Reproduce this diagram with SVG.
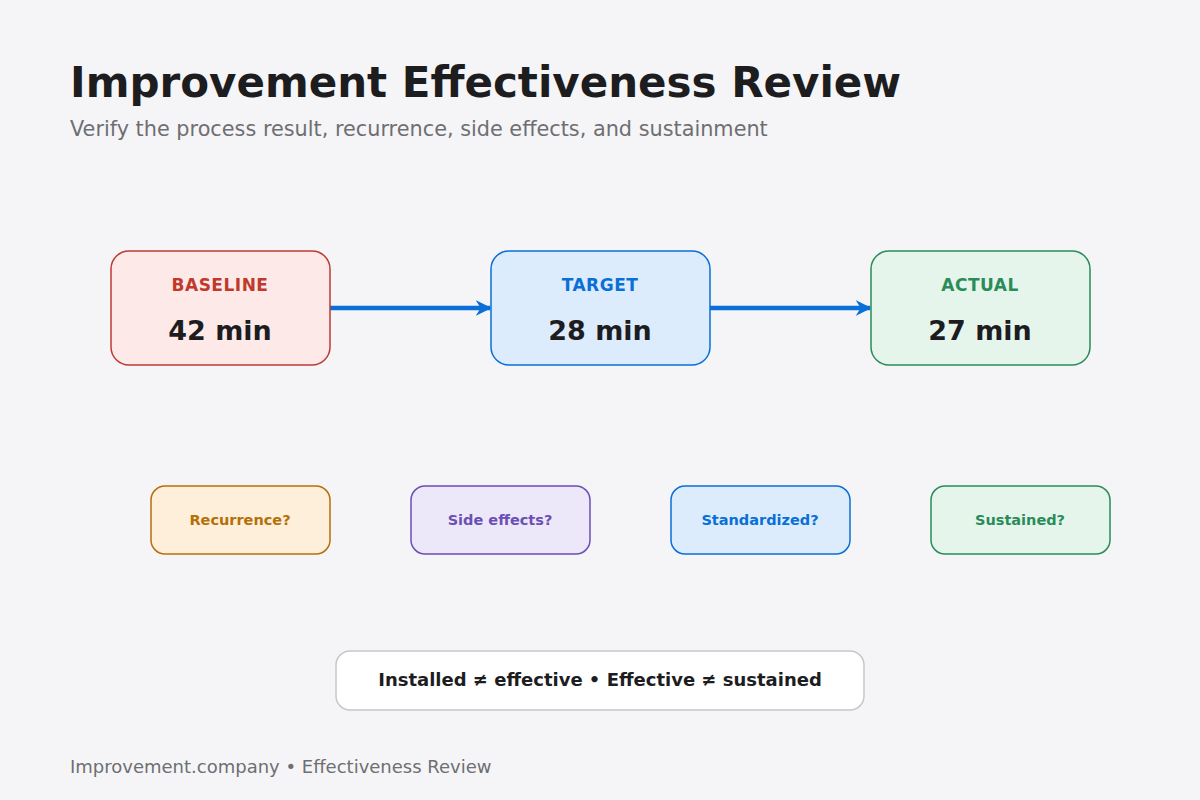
<svg xmlns="http://www.w3.org/2000/svg" width="1200" height="800" viewBox="0 0 1200 800">
<style>
text{font-family:"DejaVu Sans",sans-serif}
.lab{font-size:17px;font-weight:bold;text-anchor:middle;letter-spacing:0.5px}
.val{font-size:27px;font-weight:bold;text-anchor:middle;fill:#1d1d1f}
.q{font-size:14.5px;font-weight:bold;text-anchor:middle}
</style>
<defs>
<marker id="ah" viewBox="0 0 10 10" refX="9" refY="5" markerWidth="3.5" markerHeight="3.5" orient="auto"><path d="M0,0 L10,5 L0,10 L3,5 Z" fill="#0a6fd6"/></marker>
</defs>
<rect width="1200" height="800" fill="#f5f5f7"/>
<text x="70" y="97" font-size="42" font-weight="bold" fill="#1d1d1f">Improvement Effectiveness Review</text>
<text x="70" y="136" font-size="20.8" fill="#6e6e73">Verify the process result, recurrence, side effects, and sustainment</text>
<g id="connectors" stroke="#0a6fd6" stroke-width="4.5" marker-end="url(#ah)">
<line x1="330" y1="308" x2="490" y2="308"/>
<line x1="710" y1="308" x2="870" y2="308"/>
</g>
<g id="baseline"><rect x="111" y="251" width="219" height="114" rx="18" fill="#fde9e8" stroke="#bd3a35" stroke-width="1.5"/>
<text class="lab" x="220" y="291" fill="#c0392b">BASELINE</text><text class="val" x="220" y="340">42 min</text></g>
<g id="target"><rect x="491" y="251" width="219" height="114" rx="18" fill="#dcecfc" stroke="#0a6fd6" stroke-width="1.5"/>
<text class="lab" x="600" y="291" fill="#0a6fd6">TARGET</text><text class="val" x="600" y="340">28 min</text></g>
<g id="actual"><rect x="871" y="251" width="219" height="114" rx="18" fill="#e6f5ec" stroke="#2a8c58" stroke-width="1.5"/>
<text class="lab" x="980" y="291" fill="#2a8c58">ACTUAL</text><text class="val" x="980" y="340">27 min</text></g>
<g id="recurrence"><rect x="151" y="486" width="179" height="68" rx="14" fill="#fdefd9" stroke="#b56f0a" stroke-width="1.5"/><text class="q" x="240" y="525" fill="#b56f0a">Recurrence?</text></g>
<g id="side"><rect x="411" y="486" width="179" height="68" rx="14" fill="#ede7fa" stroke="#6b4fb5" stroke-width="1.5"/><text class="q" x="500" y="525" fill="#6b4fb5">Side effects?</text></g>
<g id="std"><rect x="671" y="486" width="179" height="68" rx="14" fill="#dcecfc" stroke="#0a6fd6" stroke-width="1.5"/><text class="q" x="760" y="525" fill="#0a6fd6">Standardized?</text></g>
<g id="sus"><rect x="931" y="486" width="179" height="68" rx="14" fill="#e6f5ec" stroke="#2a8c58" stroke-width="1.5"/><text class="q" x="1020" y="525" fill="#2a8c58">Sustained?</text></g>
<g id="note"><rect x="336" y="651" width="528" height="59" rx="14" fill="#fff" stroke="#c8c8cc" stroke-width="1.5"/><text x="600" y="686" font-size="18" font-weight="bold" text-anchor="middle" fill="#1d1d1f">Installed ≠ effective • Effective ≠ sustained</text></g>
<text x="70" y="773" font-size="18" fill="#6e6e73">Improvement.company • Effectiveness Review</text>
</svg>
